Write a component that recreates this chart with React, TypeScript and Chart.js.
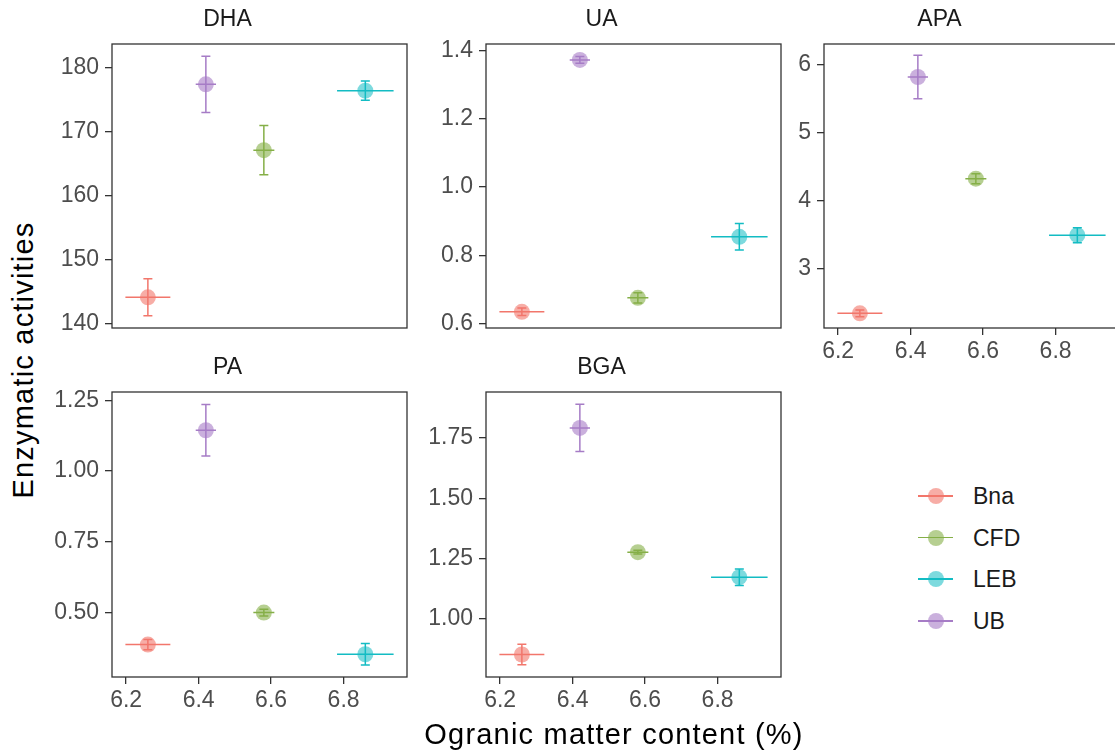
import React, { useEffect, useRef } from 'react';
import { Chart, registerables } from 'chart.js';

Chart.register(...registerables);

const FONT = '"Liberation Sans", Arial, Helvetica, sans-serif';

// ---------- data ----------
const groups = ['Bna', 'CFD', 'LEB', 'UB'];
const lineColors = ['#F2766B', '#85AF47', '#13BCC3', '#A67CC6'];
const pointColors = [
  'rgba(242,118,107,0.6)',
  'rgba(133,175,71,0.6)',
  'rgba(19,188,195,0.55)',
  'rgba(166,124,198,0.6)',
];

const organicMatter = [6.26, 6.58, 6.86, 6.42];
const organicMatterErr = [0.062, 0.029, 0.078, 0.028];
const xTicks = [6.2, 6.4, 6.6, 6.8];
const xRange = [6.161, 6.975];

const dhaMean = [144.1, 167.1, 176.4, 177.4];
const dhaErr = [2.9, 3.85, 1.5, 4.4];
const dhaTicks = [140, 150, 160, 170, 180];
const dhaRange = [139.3, 183.7];

const uaMean = [0.634, 0.675, 0.854, 1.373];
const uaErr = [0.011, 0.015, 0.039, 0.01];
const uaTicks = [0.6, 0.8, 1.0, 1.2, 1.4];
const uaRange = [0.5865, 1.4196];

const apaMean = [2.349, 4.323, 3.495, 5.814];
const apaErr = [0.05, 0.073, 0.11, 0.318];
const apaTicks = [3, 4, 5, 6];
const apaRange = [2.134, 6.298];

const paMean = [0.387, 0.5, 0.353, 1.144];
const paErr = [0.018, 0.012, 0.038, 0.091];
const paTicks = [0.5, 0.75, 1.0, 1.25];
const paRange = [0.2726, 1.279];

const bgaMean = [0.851, 1.276, 1.172, 1.792];
const bgaErr = [0.043, 0.008, 0.034, 0.098];
const bgaTicks = [1.0, 1.25, 1.5, 1.75];
const bgaRange = [0.7576, 1.941];

// ---------- layout ----------
const YW = 64; // y-axis width
const XH = 42; // x-axis height
const TH = 39; // title height (2 + 26 + 11)
const RP = 2;
const PW = 295;

const panels = [
  { name: 'DHA', mean: dhaMean, err: dhaErr, ticks: dhaTicks, range: dhaRange, dec: 0, left: 112, top: 44, h: 284, xLabels: false },
  { name: 'UA', mean: uaMean, err: uaErr, ticks: uaTicks, range: uaRange, dec: 1, left: 486, top: 44, h: 284, xLabels: false },
  { name: 'APA', mean: apaMean, err: apaErr, ticks: apaTicks, range: apaRange, dec: 0, left: 824, top: 44, h: 284, xLabels: true },
  { name: 'PA', mean: paMean, err: paErr, ticks: paTicks, range: paRange, dec: 2, left: 112, top: 392, h: 285, xLabels: true },
  { name: 'BGA', mean: bgaMean, err: bgaErr, ticks: bgaTicks, range: bgaRange, dec: 2, left: 486, top: 392, h: 285, xLabels: true },
];

const CAP = 4.5;

const errorBarPlugin = {
  id: 'errorBars',
  afterDatasetsDraw(chart: any) {
    const { ctx, chartArea } = chart;
    const xs = chart.scales.x;
    const ys = chart.scales.y;
    ctx.save();
    ctx.beginPath();
    ctx.rect(chartArea.left, chartArea.top, chartArea.right - chartArea.left, chartArea.bottom - chartArea.top);
    ctx.clip();
    chart.data.datasets.forEach((ds: any) => {
      ds.data.forEach((pt: any, j: number) => {
        const px = xs.getPixelForValue(pt.x);
        const py = ys.getPixelForValue(pt.y);
        const x0 = xs.getPixelForValue(pt.x - ds.xErr[j]);
        const x1 = xs.getPixelForValue(pt.x + ds.xErr[j]);
        const y0 = ys.getPixelForValue(pt.y - ds.yErr[j]);
        const y1 = ys.getPixelForValue(pt.y + ds.yErr[j]);
        ctx.strokeStyle = ds.errColor;
        ctx.lineWidth = 1.5;
        ctx.beginPath();
        ctx.moveTo(x0, py);
        ctx.lineTo(x1, py);
        ctx.moveTo(px, y0);
        ctx.lineTo(px, y1);
        ctx.moveTo(px - CAP, y0);
        ctx.lineTo(px + CAP, y0);
        ctx.moveTo(px - CAP, y1);
        ctx.lineTo(px + CAP, y1);
        ctx.stroke();
      });
    });
    ctx.restore();
  },
};

const boxPlugin = {
  id: 'panelBox',
  afterDraw(chart: any) {
    const { ctx, chartArea } = chart;
    ctx.save();
    ctx.strokeStyle = '#333333';
    ctx.lineWidth = 1.3;
    ctx.strokeRect(chartArea.left, chartArea.top, chartArea.right - chartArea.left, chartArea.bottom - chartArea.top);
    ctx.restore();
  },
};

function Panel({ p }: { p: any }) {
  const ref = useRef<HTMLCanvasElement>(null);
  const width = YW + PW + RP;
  const height = TH + p.h + XH;
  useEffect(() => {
    const canvas = ref.current!;
    const chart = new Chart(canvas, {
      type: 'scatter',
      data: {
        datasets: groups.map((g, i) => ({
          label: g,
          data: [{ x: organicMatter[i], y: p.mean[i] }],
          xErr: [organicMatterErr[i]],
          yErr: [p.err[i]],
          errColor: lineColors[i],
          backgroundColor: pointColors[i],
          borderWidth: 0,
          pointRadius: 8,
          pointHoverRadius: 8,
        })) as any,
      },
      options: {
        responsive: false,
        animation: false,
        devicePixelRatio: 1,
        events: [],
        layout: { autoPadding: false, padding: { left: 0, right: RP, top: 0, bottom: 0 } },
        plugins: {
          legend: { display: false },
          tooltip: { enabled: false },
          title: {
            display: true,
            text: p.name,
            color: '#1A1A1A',
            font: { family: FONT, size: 23, weight: 'normal', lineHeight: 26 / 23 },
            padding: { top: 2, bottom: 11 },
          },
        },
        scales: {
          x: {
            type: 'linear',
            min: xRange[0],
            max: xRange[1],
            afterBuildTicks: (s: any) => {
              s.ticks = xTicks.map((v) => ({ value: v }));
            },
            afterFit: (s: any) => {
              s.height = XH;
            },
            ticks: {
              display: p.xLabels,
              color: '#4D4D4D',
              font: { family: FONT, size: 23 },
              padding: 3,
              maxRotation: 0,
              autoSkip: false,
              callback: (v: any) => Number(v).toFixed(1),
            },
            grid: { display: p.xLabels, drawOnChartArea: false, drawTicks: true, tickLength: 7, color: '#333333', lineWidth: 1.3 },
            border: { display: false },
          },
          y: {
            type: 'linear',
            min: p.range[0],
            max: p.range[1],
            afterBuildTicks: (s: any) => {
              s.ticks = p.ticks.map((v: number) => ({ value: v }));
            },
            afterFit: (s: any) => {
              s.width = YW;
            },
            ticks: {
              color: '#4D4D4D',
              font: { family: FONT, size: 23 },
              padding: 6,
              autoSkip: false,
              callback: (v: any) => Number(v).toFixed(p.dec),
            },
            grid: { drawOnChartArea: false, drawTicks: true, tickLength: 7, color: '#333333', lineWidth: 1.3 },
            border: { display: false },
          },
        },
      } as any,
      plugins: [errorBarPlugin, boxPlugin],
    });
    return () => chart.destroy();
  }, []);
  return (
    <canvas
      ref={ref}
      width={width}
      height={height}
      style={{ position: 'absolute', left: p.left - YW, top: p.top - TH, width, height }}
    />
  );
}

const legendY = [496, 537.5, 579, 621];

export default function App() {
  return (
    <div
      style={{
        position: 'absolute',
        left: 0,
        top: 0,
        width: 1115,
        height: 753,
        overflow: 'hidden',
        background: '#ffffff',
        fontFamily: FONT,
      }}
    >
      {panels.map((p) => (
        <Panel key={p.name} p={p} />
      ))}
      <div
        style={{
          position: 'absolute',
          left: 23,
          top: 360,
          transform: 'translate(-50%, -50%) rotate(-90deg)',
          fontSize: 29,
          lineHeight: '29px',
          letterSpacing: '1.2px',
          color: '#000000',
          whiteSpace: 'nowrap',
        }}
      >
        Enzymatic activities
      </div>
      <div
        style={{
          position: 'absolute',
          left: 614,
          top: 734,
          transform: 'translate(-50%, -50%)',
          fontSize: 29,
          lineHeight: '29px',
          letterSpacing: '1.2px',
          color: '#000000',
          whiteSpace: 'nowrap',
        }}
      >
        Ogranic matter content (%)
      </div>
      {groups.map((g, i) => (
        <div key={g} style={{ position: 'absolute', left: 918, top: legendY[i] - 15, height: 30, width: 160 }}>
          <div style={{ position: 'absolute', left: 0, top: 14.25, width: 35, height: 1.5, background: lineColors[i] }} />
          <div
            style={{
              position: 'absolute',
              left: 9.5,
              top: 7,
              width: 16,
              height: 16,
              borderRadius: '50%',
              background: pointColors[i],
            }}
          />
          <div
            style={{
              position: 'absolute',
              left: 55,
              top: 0,
              height: 30,
              lineHeight: '30px',
              fontSize: 23,
              color: '#1A1A1A',
            }}
          >
            {g}
          </div>
        </div>
      ))}
    </div>
  );
}
